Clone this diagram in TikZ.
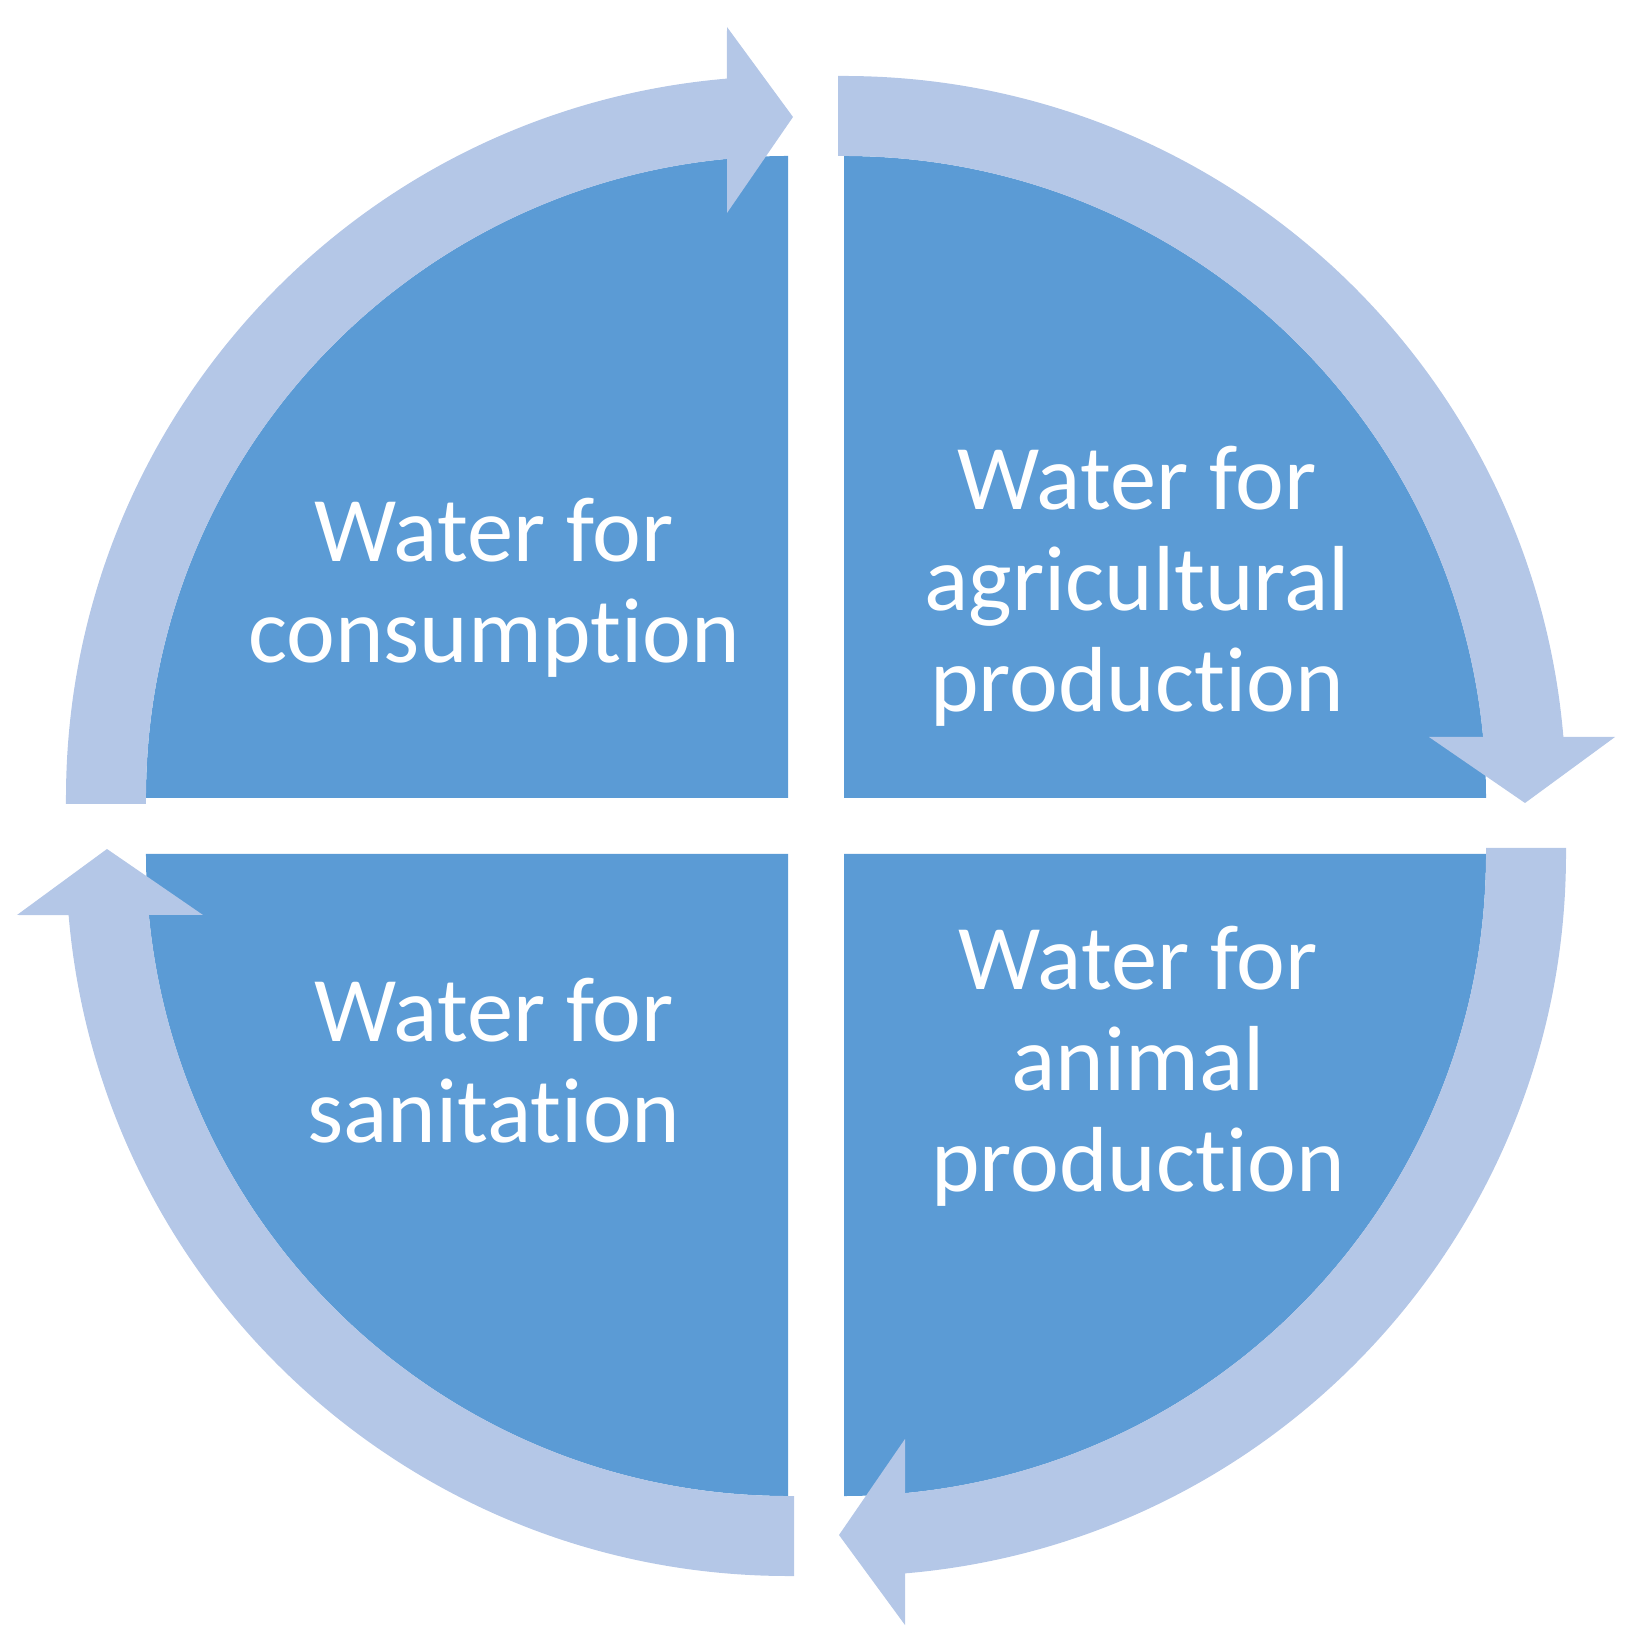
\documentclass[tikz,border=0pt]{standalone}
\usepackage{fontspec}
\setmainfont{Carlito}[Ligatures=NoCommon]
\definecolor{quadc}{HTML}{5B9BD5}
\definecolor{arrowc}{HTML}{B4C7E7}
\begin{document}
\begin{tikzpicture}[x=0.5pt,y=0.5pt,
  quadfill/.style={fill=quadc},
  arrowfill/.style={fill=arrowc},
  lbl/.style={text=white, align=center, inner sep=0pt,
    font=\fontsize{46.2}{50.5}\selectfont, anchor=base}]
\useasboundingbox (-816,-821) rectangle (815,826);
\foreach \r in {0,-90,-180,-270}{
  \begin{scope}[rotate=\r]
    \fill[quadfill] (28,28) -- (670,28) arc[start angle=0,end angle=90,radius=642] -- cycle;
  \end{scope}
}
\foreach \r in {0,-90,-180,-270}{
  \begin{scope}[rotate=\r]
    \fill[arrowfill] (22,670) -- (22,750) -- (28,750)
      arc[start angle=90,end angle=4.85,radius=722]
      -- (799,89) -- (709,23) -- (613,89) -- (667.1,89)
      arc[start angle=5.452,end angle=90,radius=642] -- cycle;
  \end{scope}
}
\node[lbl] (tl) at (-322,163.3) {Water for\\consumption};
\node[lbl] (tr) at (321,114.3) {Water for\\agricultural\\production};
\node[lbl] (bl) at (-322,-316.3) {Water for\\sanitation};
\node[lbl] (br) at (322,-365.7) {Water for\\animal\\production};
\end{tikzpicture}
\end{document}
